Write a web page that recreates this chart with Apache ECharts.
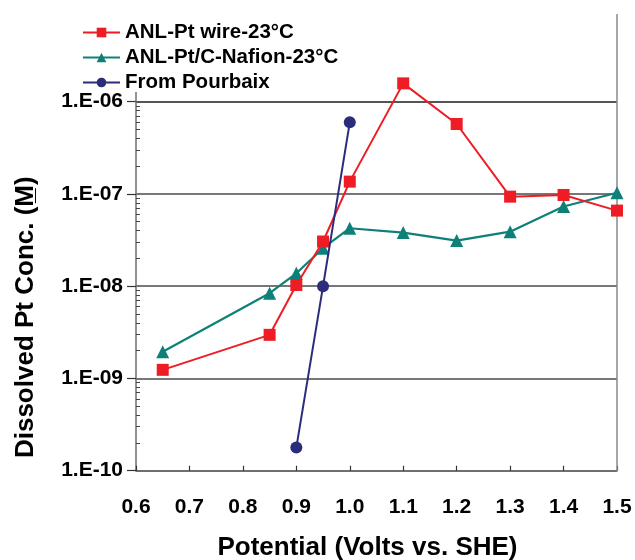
<!DOCTYPE html>
<html>
<head>
<meta charset="utf-8">
<script src="https://cdn.jsdelivr.net/npm/echarts@6/dist/echarts.min.js"></script>
<style>html,body{margin:0;padding:0;background:#fff}#c{width:635px;height:560px}</style>
</head>
<body>
<div id="c"></div>
<script>
var potentials = [0.65, 0.85, 0.9, 0.95, 1.0, 1.1, 1.2, 1.3, 1.4, 1.5];
var ptWire = [1.24e-9, 2.97e-9, 1.03e-8, 3.05e-8, 1.36e-7, 1.58e-6, 5.73e-7, 9.35e-8, 9.75e-8, 6.6e-8];
var ptCNafion = [1.95e-9, 8.4e-9, 1.38e-8, 2.58e-8, 4.25e-8, 3.81e-8, 3.12e-8, 3.9e-8, 7.3e-8, 1.03e-7];
var pourbaixX = [0.9, 0.95, 1.0];
var pourbaixY = [1.78e-10, 1.0e-8, 5.98e-7];
var yTickLabels = ['1.E-10', '1.E-09', '1.E-08', '1.E-07', '1.E-06'];
var seriesNames = ['ANL-Pt wire-23\u00B0C', 'ANL-Pt/C-Nafion-23\u00B0C', 'From Pourbaix'];

function pairs(xs, ys) { return xs.map(function (x, i) { return [x, ys[i]]; }); }

var minorLog = [];
for (var d = -10; d < -6; d++) { for (var k = 2; k <= 9; k++) { minorLog.push(d + Math.log10(k)); } }

var FONT = '"Liberation Sans", Arial, sans-serif';
var chart = echarts.init(document.getElementById('c'), null, { renderer: 'canvas' });
chart.setOption({
  animation: false,
  backgroundColor: '#fff',
  grid: { left: 136, right: 18, top: 101.7, bottom: 89.3, outerBoundsMode: 'none', containLabel: false },
  legend: {
    orient: 'vertical', left: 77, top: 17, itemWidth: 37, itemHeight: 12, itemGap: 4,
    textStyle: { fontFamily: FONT, fontWeight: 'bold', fontSize: 20.5, color: '#000' },
    data: seriesNames
  },
  xAxis: {
    type: 'value', min: 0.6, max: 1.5, interval: 0.1,
    name: 'Potential (Volts vs. SHE)', nameLocation: 'middle', nameGap: 64,
    nameTextStyle: { fontFamily: FONT, fontWeight: 'bold', fontSize: 26, color: '#000', padding: [0, 18, 0, 0] },
    axisLine: { lineStyle: { color: '#6e6e6e', width: 1.5 } },
    axisTick: { inside: true, length: 5, lineStyle: { color: '#333', width: 1.2 } },
    axisLabel: { margin: 26, fontFamily: FONT, fontWeight: 'bold', fontSize: 21, color: '#000',
      formatter: function (v) { return v.toFixed(1); } },
    splitLine: { show: false }
  },
  yAxis: [{
    type: 'log', min: 1e-10, max: 1e-6, logBase: 10,
    name: 'Dissolved Pt Conc. (M\u0332)', nameLocation: 'middle', nameGap: 97,
    nameTextStyle: { fontFamily: FONT, fontWeight: 'bold', fontSize: 26, color: '#000', padding: [0, 62, 0, 0] },
    axisLine: { show: true, lineStyle: { color: '#6e6e6e', width: 1.5 } },
    axisTick: { show: true, inside: false, length: 9, lineStyle: { color: '#333', width: 1.2 } },
    axisLabel: { margin: 13, fontFamily: FONT, fontWeight: 'bold', fontSize: 21, color: '#000',
      formatter: function (v) { var e = Math.round(Math.log10(v)); return yTickLabels[e + 10]; } },
    splitLine: { show: true, lineStyle: { color: '#4a4a4a', width: 1.5 } }
  }, {
    type: 'value', min: -10, max: -6, position: 'left', offset: 0,
    axisLine: { show: false },
    axisTick: { show: true, inside: true, length: 4, customValues: minorLog, lineStyle: { color: '#444', width: 1 } },
    axisLabel: { show: false },
    splitLine: { show: false }
  }],
  graphic: [{
    type: 'line', shape: { x1: 617, y1: 14, x2: 617, y2: 471 },
    style: { stroke: '#8a8a8a', lineWidth: 1.5 }, z: 1
  }, {
    type: 'line', shape: { x1: 136, y1: 92, x2: 136, y2: 102 },
    style: { stroke: '#6e6e6e', lineWidth: 1.5 }, z: 1
  }],
  series: [{
    name: seriesNames[0], type: 'line', data: pairs(potentials, ptWire), clip: false,
    symbol: 'rect', symbolSize: 12,
    lineStyle: { color: '#ee1c24', width: 2 }, itemStyle: { color: '#ee1c24' }, z: 3
  }, {
    name: seriesNames[1], type: 'line', data: pairs(potentials, ptCNafion), clip: false,
    symbol: 'triangle', symbolSize: 13,
    lineStyle: { color: '#0e8078', width: 2.2 }, itemStyle: { color: '#0e8078' }, z: 2
  }, {
    name: seriesNames[2], type: 'line', yAxisIndex: 0, data: pairs(pourbaixX, pourbaixY), clip: false,
    symbol: 'circle', symbolSize: 12,
    lineStyle: { color: '#2b2d7c', width: 2 }, itemStyle: { color: '#2b2d7c' }, z: 4
  }]
});
</script>
</body>
</html>
